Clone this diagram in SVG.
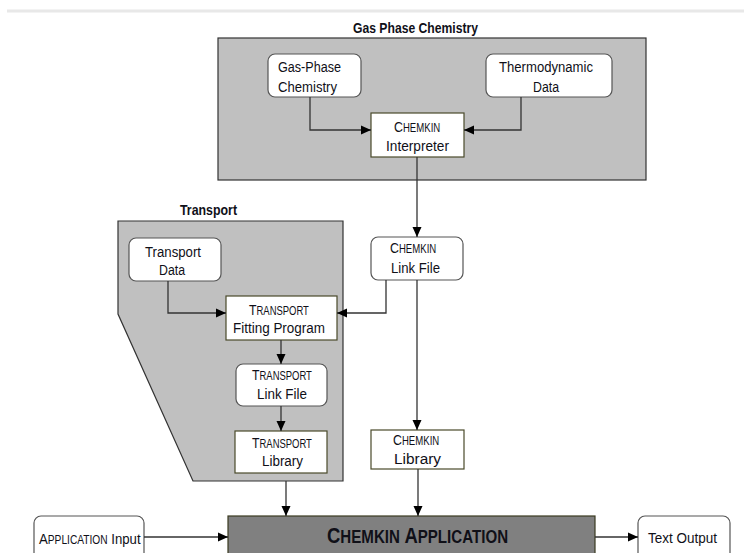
<svg xmlns="http://www.w3.org/2000/svg" width="744" height="553" viewBox="0 0 744 553">
<defs>
<marker id="ah" markerUnits="userSpaceOnUse" markerWidth="10" markerHeight="10" viewBox="0 0 10 10" refX="10" refY="5" orient="auto">
<path d="M0,0.5 L10,5 L0,9.5 Z" fill="#000"/>
</marker>
<style>
.grp{fill:#c0c0c0;stroke:#333;stroke-width:1.2}
.rnd{fill:#fff;stroke:#555;stroke-width:1.2}
.sq{fill:#fff;stroke:#4a4a2a;stroke-width:1.2}
.app{fill:#808080;stroke:#3a3a20;stroke-width:1.2}
text{font-family:"Liberation Sans Narrow","Liberation Sans",Arial,sans-serif;fill:#101018;font-size:15.5px}
.t{font-weight:bold;font-size:15.5px}
.sc{font-size:12px}
.big{font-weight:bold;font-size:22px}
.bsc{font-size:18px}
.conn path{fill:none;stroke:#333;stroke-width:1.3;marker-end:url(#ah)}
</style>
</defs>
<line x1="7" y1="11" x2="744" y2="11" stroke="#e8e8e8" stroke-width="3"/>

<g id="gas-phase-group">
<rect class="grp" x="218" y="38" width="428" height="142"/>
<text class="t" x="353" y="33" textLength="125" lengthAdjust="spacingAndGlyphs">Gas Phase Chemistry</text>
</g>
<g id="transport-group">
<path class="grp" d="M118,221 L343,221 L343,481 L193,481 L118,314 Z"/>
<text class="t" x="180" y="215" textLength="57" lengthAdjust="spacingAndGlyphs">Transport</text>
</g>

<g id="gas-phase-chemistry">
<rect class="rnd" x="268" y="54" width="93" height="43" rx="7"/>
<text x="278" y="72" textLength="63" lengthAdjust="spacingAndGlyphs">Gas-Phase</text>
<text x="278" y="92" textLength="59" lengthAdjust="spacingAndGlyphs">Chemistry</text>
</g>
<g id="thermodynamic-data">
<rect class="rnd" x="486" y="54" width="126" height="43" rx="7"/>
<text x="499" y="72" textLength="94" lengthAdjust="spacingAndGlyphs">Thermodynamic</text>
<text x="533" y="92" textLength="26" lengthAdjust="spacingAndGlyphs">Data</text>
</g>
<g id="chemkin-interpreter">
<rect class="sq" x="371" y="113" width="93" height="44"/>
<text transform="translate(394,132) scale(0.8,1)">C<tspan class="sc">HEMKIN</tspan></text>
<text x="386" y="151" textLength="63" lengthAdjust="spacingAndGlyphs">Interpreter</text>
</g>
<g id="transport-data">
<rect class="rnd" x="129" y="238" width="92" height="43" rx="7"/>
<text x="145" y="257" textLength="56" lengthAdjust="spacingAndGlyphs">Transport</text>
<text x="159" y="275" textLength="26" lengthAdjust="spacingAndGlyphs">Data</text>
</g>
<g id="chemkin-link-file">
<rect class="rnd" x="371" y="237" width="92" height="43" rx="7"/>
<text transform="translate(390,253) scale(0.8,1)">C<tspan class="sc">HEMKIN</tspan></text>
<text x="391" y="273" textLength="49" lengthAdjust="spacingAndGlyphs">Link File</text>
</g>
<g id="transport-fitting-program">
<rect class="sq" x="226" y="296" width="111" height="44"/>
<text transform="translate(249,315) scale(0.79,1)">T<tspan class="sc">RANSPORT</tspan></text>
<text x="233" y="333" textLength="92" lengthAdjust="spacingAndGlyphs">Fitting Program</text>
</g>
<g id="transport-link-file">
<rect class="rnd" x="236" y="364" width="91" height="42" rx="7"/>
<text transform="translate(252,380) scale(0.79,1)">T<tspan class="sc">RANSPORT</tspan></text>
<text x="257" y="399" textLength="50" lengthAdjust="spacingAndGlyphs">Link File</text>
</g>
<g id="transport-library">
<rect class="sq" x="235" y="431" width="92" height="42"/>
<text transform="translate(252,448) scale(0.79,1)">T<tspan class="sc">RANSPORT</tspan></text>
<text x="262" y="466" textLength="41" lengthAdjust="spacingAndGlyphs">Library</text>
</g>
<g id="chemkin-library">
<rect class="sq" x="371" y="430" width="93" height="39"/>
<text transform="translate(393,445) scale(0.8,1)">C<tspan class="sc">HEMKIN</tspan></text>
<text x="394" y="464" textLength="47" lengthAdjust="spacingAndGlyphs">Library</text>
</g>
<g id="application-input">
<rect class="rnd" x="34" y="516" width="110" height="45" rx="7"/>
<text transform="translate(39,544) scale(0.85,1)">A<tspan class="sc">PPLICATION</tspan> Input</text>
</g>
<g id="chemkin-application">
<rect class="app" x="228" y="516" width="367" height="45"/>
<text class="big" transform="translate(327,543) scale(0.84,1)">C<tspan class="bsc">HEMKIN</tspan> A<tspan class="bsc">PPLICATION</tspan></text>
</g>
<g id="text-output">
<rect class="rnd" x="638" y="516" width="92" height="45" rx="7"/>
<text x="648" y="543" textLength="69" lengthAdjust="spacingAndGlyphs">Text Output</text>
</g>

<g id="connectors" class="conn">
<path d="M310,97 V130 H371"/>
<path d="M521,97 V130 H464"/>
<path d="M417,157 V237"/>
<path d="M168,281 V313 H226"/>
<path d="M386,280 V313 H337"/>
<path d="M281,340 V364"/>
<path d="M281,406 V431"/>
<path d="M417,280 V430"/>
<path d="M286,481 V516"/>
<path d="M418,469 V516"/>
<path d="M144,537 H228"/>
<path d="M595,537 H638"/>
</g>
</svg>
